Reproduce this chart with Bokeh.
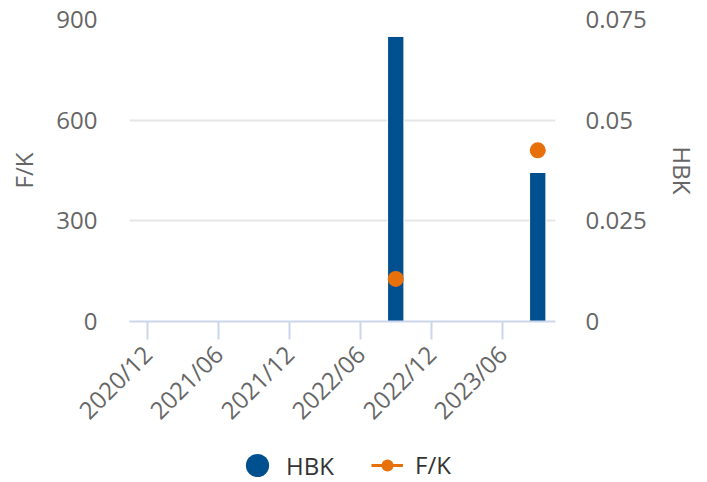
import math
from bokeh.plotting import figure
from bokeh.layouts import column
from bokeh.models import (Range1d, LinearAxis, FixedTicker, CustomJSTickFormatter,
                          Legend, LegendItem, ColumnDataSource)
from bokeh.embed import file_html
from bokeh.resources import INLINE

# ---- data ----
quarters = ["2020/12", "2021/03", "2021/06", "2021/09", "2021/12", "2022/03",
            "2022/06", "2022/09", "2022/12", "2023/03", "2023/06", "2023/09"]
hbk = [None, None, None, None, None, None, None, 0.0708, None, None, None, 0.0370]
fk = [None, None, None, None, None, None, None, 127, None, None, None, 510]
fk_ticks = [0, 300, 600, 900]
hbk_ticks = [0, 0.025, 0.05, 0.075]

FONT = "Open Sans"
FS = "24px"
BLUE = "#00508F"
ORANGE = "#E8700A"
GREY = "#666666"

idx = list(range(len(quarters)))
nan = float("nan")
src = ColumnDataSource(dict(
    x=idx,
    hbk=[nan if v is None else v for v in hbk],
    fk=[nan if v is None else v for v in fk],
))

p = figure(width=707, height=440, output_backend="svg", toolbar_location=None,
           x_range=Range1d(-0.5, len(quarters) - 0.5), y_range=Range1d(0, 900),
           min_border_left=129, min_border_right=152, min_border_top=19,
           min_border_bottom=119)
p.outline_line_color = None
p.background_fill_color = "white"
p.extra_y_ranges = {"hbk": Range1d(0, 0.075)}

# grid
p.xgrid.grid_line_color = None
p.ygrid.grid_line_color = "#e6e6e6"
p.ygrid.grid_line_width = 2
p.ygrid.ticker = FixedTicker(ticks=fk_ticks)

# left axis
yl = p.yaxis[0]
yl.ticker = FixedTicker(ticks=fk_ticks)
yl.formatter = CustomJSTickFormatter(code="return tick.toString();")
yl.axis_line_color = None
yl.major_tick_line_color = None
yl.minor_tick_line_color = None
yl.major_label_standoff = 26
yl.axis_label = "F/K"
yl.axis_label_standoff = 13
yl.major_label_text_font = FONT
yl.major_label_text_font_size = FS
yl.major_label_text_color = GREY
yl.axis_label_text_font = FONT
yl.axis_label_text_font_size = FS
yl.axis_label_text_font_style = "normal"
yl.axis_label_text_color = GREY

# right axis
yr = LinearAxis(y_range_name="hbk", ticker=FixedTicker(ticks=hbk_ticks),
                formatter=CustomJSTickFormatter(code="return tick.toString();"))
yr.axis_line_color = None
yr.major_tick_line_color = None
yr.minor_tick_line_color = None
yr.major_label_standoff = 24
yr.axis_label = "HBK"
yr.axis_label_standoff = 16
yr.major_label_text_font = FONT
yr.major_label_text_font_size = FS
yr.major_label_text_color = GREY
yr.axis_label_text_font = FONT
yr.axis_label_text_font_size = FS
yr.axis_label_text_font_style = "normal"
yr.axis_label_text_color = GREY
p.add_layout(yr, "right")

# x axis
xa = p.xaxis[0]
xa.ticker = FixedTicker(ticks=idx[::2])
xa.major_label_overrides = {i: quarters[i] for i in idx[::2]}
xa.major_label_orientation = math.pi / 4
xa.axis_line_color = "#ccd6eb"
xa.axis_line_width = 2
xa.major_tick_line_color = "#ccd6eb"
xa.major_tick_line_width = 2
xa.major_tick_in = 0
xa.major_tick_out = 18
xa.minor_tick_line_color = None
xa.major_label_standoff = 10
xa.major_label_text_font = FONT
xa.major_label_text_font_size = FS
xa.major_label_text_color = GREY

# glyphs
bars = p.vbar(x="x", top="hbk", width=0.46, source=src, y_range_name="hbk",
              fill_color=BLUE, line_color="white", line_width=1)
dots = p.scatter(x="x", y="fk", source=src, size=16, fill_color=ORANGE,
                 line_color=ORANGE, line_width=0)

# ---- legend strip (separate figure below the chart) ----
lf = figure(width=707, height=42, output_backend="svg", toolbar_location=None,
            x_range=Range1d(0, 1), y_range=Range1d(0, 1),
            x_axis_location=None, y_axis_location=None, min_border=0)
lf.outline_line_color = None
lf.grid.grid_line_color = None
leg_circle = lf.scatter(x=[nan], y=[nan], fill_color=BLUE, line_color=None)
leg_line = lf.line(x=[nan], y=[nan], line_color=ORANGE, line_width=3)
leg_dot = lf.scatter(x=[nan], y=[nan], fill_color=ORANGE, line_color=None)

common = dict(orientation="horizontal", padding=0, margin=0,
              border_line_color=None, background_fill_alpha=0,
              label_text_font=FONT, label_text_font_size=FS,
              label_text_color="#333333")
legend_hbk = Legend(items=[LegendItem(label="HBK", renderers=[leg_circle])],
                    location=(99, -12), glyph_width=58, glyph_height=58,
                    label_standoff=0, **common)
legend_fk = Legend(items=[LegendItem(label="F/K", renderers=[leg_line, leg_dot])],
                   location=(242, 1), glyph_width=32, glyph_height=30,
                   label_standoff=12, **common)
lf.add_layout(legend_hbk, "center")
lf.add_layout(legend_fk, "center")

layout = column(p, lf, spacing=0)
open("out.html", "w").write(file_html(layout, INLINE))
